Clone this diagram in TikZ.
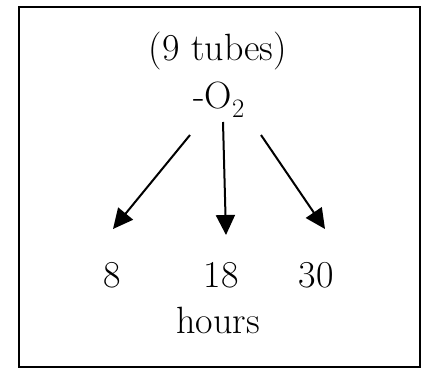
\documentclass[tikz,border=0pt]{standalone}
\usepackage{tikz}
\usetikzlibrary{arrows.meta}

\begin{document}
\begin{tikzpicture}[
  x=1pt, y=-1pt,
  lbl/.style={anchor=base, inner sep=0pt, font=\fontsize{38}{44}\selectfont},
  fan/.style={-{Triangle[length=20pt, width=19pt]}, line width=2pt},
  frame/.style={draw, line width=1.4pt},
]
\useasboundingbox (0,0) rectangle (423,368);

% --- outer box
\draw[frame] (19,7) rectangle (420,367);

% --- header: what goes in
\node[lbl] (tubes) at (218,60)  {(9 tubes)};
\node[lbl] (o2)    at (219,108) {-O\textsubscript{2}};

% --- the three sampling times
\node[lbl] (t8)  at (112,287) {8};
\node[lbl] (t18) at (221,287) {18};
\node[lbl] (t30) at (316,287) {30};
\node[lbl] (hrs) at (218,333) {hours};

% --- arrows fan out from below -O2 towards each time
\coordinate (l0) at (190,135);
\coordinate (l1) at (113,229);
\coordinate (m0) at (223,122);
\coordinate (m1) at (226,235);
\coordinate (r0) at (261,135);
\coordinate (r1) at (325,229);
\draw[fan] (l0) -- (l1);
\draw[fan] (m0) -- (m1);
\draw[fan] (r0) -- (r1);
\end{tikzpicture}
\end{document}
